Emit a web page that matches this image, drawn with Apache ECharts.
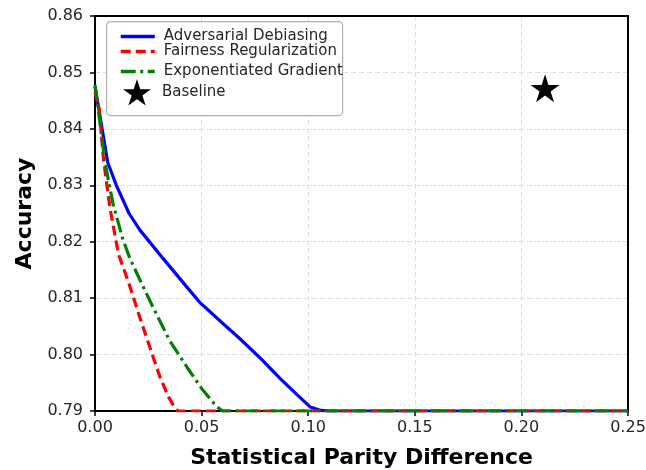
<!DOCTYPE html>
<html>
<head>
<meta charset="utf-8">
<script src="https://cdn.jsdelivr.net/npm/echarts@6/dist/echarts.min.js"></script>
<style>
  html, body { margin: 0; padding: 0; background: #fff; }
  #main { width: 646px; height: 470px; }
</style>
</head>
<body>
<div id="main"></div>
<script>
// Adversarial Debiasing (blue, solid)
const advX = [0, 0.006, 0.01, 0.016, 0.021, 0.032, 0.043, 0.049, 0.06, 0.068, 0.078, 0.087, 0.095, 0.101, 0.106, 0.11, 0.25];
const advY = [0.8475, 0.834, 0.830, 0.825, 0.8221, 0.817, 0.812, 0.8093, 0.8055, 0.8028, 0.7992, 0.7957, 0.7928, 0.7907, 0.7901, 0.79, 0.79];

// Fairness Regularization (red, dashed)
const regX = [0, 0.002, 0.004, 0.007, 0.011, 0.016, 0.021, 0.026, 0.0305, 0.0345, 0.0375, 0.039, 0.25];
const regY = [0.8465, 0.8435, 0.8345, 0.826, 0.8178, 0.8125, 0.8066, 0.801, 0.796, 0.7925, 0.7905, 0.79, 0.79];

// Exponentiated Gradient (green, dash-dot)
const expX = [0, 0.001, 0.0047, 0.0084, 0.013, 0.0164, 0.022, 0.0272, 0.035, 0.0431, 0.05, 0.0572, 0.06, 0.25];
const expY = [0.8478, 0.845, 0.834, 0.8268, 0.8205, 0.817, 0.8125, 0.8084, 0.8025, 0.7978, 0.794, 0.7907, 0.79, 0.79];

// Baseline point
const baseX = [0.2111];
const baseY = [0.8472];

const xTicks = { min: 0, max: 0.25, step: 0.05 };
const yTicks = { min: 0.79, max: 0.86, step: 0.01 };

const zip = (xs, ys) => xs.map((x, i) => [x, ys[i]]);

const starPath = 'path://M50,0 L61.2,34.5 L97.6,34.5 L68.2,55.9 L79.4,90.5 L50,69.1 L20.6,90.5 L31.8,55.9 L2.4,34.5 L38.8,34.5 Z';
const textColor = '#262626';
const font = 'DejaVu Sans';

const myChart = echarts.init(document.getElementById('main'), null, { renderer: 'canvas' });

const legendBase = {
  orient: 'vertical',
  padding: 0,
  itemWidth: 34,
  itemHeight: 14,
  lineStyle: { width: 3.5 },
  textStyle: { fontFamily: font, fontSize: 15, color: textColor, padding: [0, 0, 0, 4] },
  selectedMode: false
};

// line-only legend entry (hide the circle marker in the icon)
const lineItem = (name) => ({ name: name, itemStyle: { opacity: 0 } });

const option = {
  animation: false,
  backgroundColor: '#fff',
  grid: {
    left: 95,
    right: 18,
    top: 16,
    bottom: 59,
    outerBoundsMode: 'none',
    containLabel: false,
    show: true,
    borderColor: '#000',
    borderWidth: 2,
    z: 3
  },
  graphic: [{
    type: 'rect',
    left: 106,
    top: 21,
    shape: { width: 236, height: 94, r: 4 },
    style: { fill: '#fff', stroke: '#b0b0b0', lineWidth: 1.2 },
    z: 10
  }],
  legend: [
    Object.assign({}, legendBase, { left: 119, top: 29, data: [lineItem('Adversarial Debiasing')], z: 20 }),
    Object.assign({}, legendBase, { left: 119, top: 44, data: [lineItem('Fairness Regularization')], z: 20 }),
    Object.assign({}, legendBase, { left: 119, top: 64, data: [lineItem('Exponentiated Gradient')], z: 20 }),
    Object.assign({}, legendBase, {
      left: 123, top: 79, itemWidth: 28, itemHeight: 28, data: ['Baseline'], z: 20,
      textStyle: { fontFamily: font, fontSize: 15, color: textColor, padding: [2, 0, 0, 6] }
    })
  ],
  xAxis: {
    type: 'value',
    min: xTicks.min,
    max: xTicks.max,
    interval: xTicks.step,
    name: 'Statistical Parity Difference',
    nameLocation: 'middle',
    nameGap: 36,
    nameTextStyle: { fontFamily: font, fontSize: 22, fontWeight: 'bold', color: '#000' },
    axisLine: { onZero: false, lineStyle: { color: '#000', width: 2 } },
    axisTick: { show: true, length: 5, lineStyle: { color: '#000', width: 1.5 } },
    axisLabel: {
      fontFamily: font, fontSize: 16, color: textColor, margin: 9,
      formatter: (v) => v.toFixed(2)
    },
    splitLine: { show: true, lineStyle: { color: '#e0e0e0', type: [5, 3], width: 1 } }
  },
  yAxis: {
    type: 'value',
    min: yTicks.min,
    max: yTicks.max,
    interval: yTicks.step,
    name: 'Accuracy',
    nameLocation: 'middle',
    nameGap: 58,
    nameTextStyle: { fontFamily: font, fontSize: 22, fontWeight: 'bold', color: '#000' },
    axisLine: { onZero: false, lineStyle: { color: '#000', width: 2 } },
    axisTick: { show: true, length: 5, lineStyle: { color: '#000', width: 1.5 } },
    axisLabel: {
      fontFamily: font, fontSize: 16, color: textColor, margin: 12,
      formatter: (v) => v.toFixed(2)
    },
    splitLine: { show: true, lineStyle: { color: '#e0e0e0', type: [5, 3], width: 1 } }
  },
  series: [
    {
      name: 'Adversarial Debiasing',
      type: 'line',
      data: zip(advX, advY),
      symbol: 'none',
      lineStyle: { color: '#0000ff', width: 3.2, type: 'solid' },
      itemStyle: { color: '#0000ff' },
      z: 4
    },
    {
      name: 'Fairness Regularization',
      type: 'line',
      data: zip(regX, regY),
      symbol: 'none',
      lineStyle: { color: '#ff0000', width: 3.2, type: [10, 5] },
      itemStyle: { color: '#ff0000' },
      z: 5
    },
    {
      name: 'Exponentiated Gradient',
      type: 'line',
      data: zip(expX, expY),
      symbol: 'none',
      lineStyle: { color: '#008000', width: 3.2, type: [15, 4.5, 3, 4.5] },
      itemStyle: { color: '#008000' },
      z: 6
    },
    {
      name: 'Baseline',
      type: 'scatter',
      data: zip(baseX, baseY),
      symbol: starPath,
      symbolSize: [29, 28],
      itemStyle: { color: '#000', opacity: 1 },
      z: 7
    }
  ]
};

myChart.setOption(option);
</script>
</body>
</html>
